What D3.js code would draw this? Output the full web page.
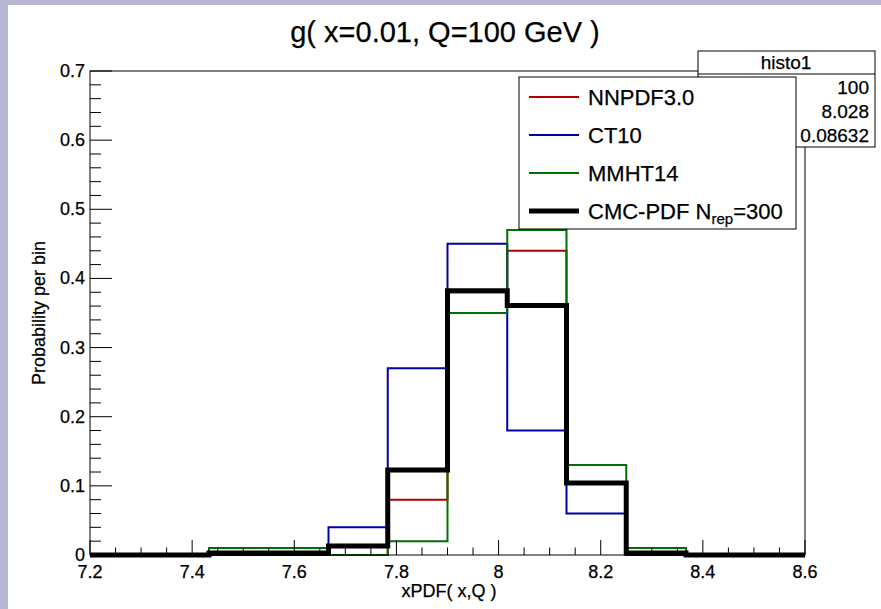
<!DOCTYPE html>
<html>
<head>
  <title>g( x=0.01, Q=100 GeV ) histogram</title>
  <script src="https://d3js.org/d3.v7.min.js"></script>
  <style>
    body { margin: 0; }
    text { font-family: "Liberation Sans", Arial, Helvetica, sans-serif; fill: #000; stroke: #000; stroke-width: 0.25px; }
  </style>
</head>
<body>
  <svg width="881" height="609"></svg>

  <script>
    // Bin edges (12 bins between 7.2 and 8.6)
    const binEdges = [7.200, 7.317, 7.433, 7.550, 7.667, 7.783, 7.900,
                      8.017, 8.133, 8.250, 8.367, 8.483, 8.600];

    // Probability per bin for each PDF set
    const nnpdf = [0, 0, 0, 0, 0, 0.08, 0.38, 0.44, 0.105, 0, 0, 0];
    const ct10  = [0, 0, 0, 0, 0.04, 0.27, 0.45, 0.18, 0.06, 0, 0, 0];
    const mmht  = [0, 0, 0.01, 0.01, 0, 0.02, 0.35, 0.47, 0.13, 0.01, 0, 0];
    const cmc   = [0, 0, 0.003, 0.003, 0.013, 0.123, 0.382, 0.361, 0.104, 0.003, 0, 0];

    const seriesNames = ["NNPDF3.0", "CT10", "MMHT14", "CMC-PDF"];

    // Tick labels
    const xTickLabels = [7.2, 7.4, 7.6, 7.8, 8, 8.2, 8.4, 8.6];
    const yTickLabels = [0, 0.1, 0.2, 0.3, 0.4, 0.5, 0.6, 0.7];

    // Stats box contents
    const statsTitle = "histo1";
    const statsLabels = ["Entries", "Mean", "RMS"];
    const statsValues = ["100", "8.028", "0.08632"];

    const svg = d3.select("svg");

    // Slide background with white canvas
    svg.append("rect").attr("width", 881).attr("height", 609).attr("fill", "#b8b8d6");
    svg.append("rect").attr("x", 8).attr("y", 5).attr("width", 873).attr("height", 604).attr("fill", "#fff");

    // Frame position
    const frame = { left: 90, right: 805, top: 71, bottom: 555 };

    const x = d3.scaleLinear().domain([7.2, 8.6]).range([frame.left, frame.right]);
    const y = d3.scaleLinear().domain([0, 0.7]).range([frame.bottom, frame.top]);

    // Title
    svg.append("text")
      .attr("x", 445).attr("y", 42)
      .attr("text-anchor", "middle")
      .attr("font-size", 29)
      .text("g( x=0.01, Q=100 GeV )");

    // Step outline of a histogram, as ROOT draws it
    function stepPath(values) {
      const pts = [];
      values.forEach((v, i) => {
        pts.push([binEdges[i], v]);
        pts.push([binEdges[i + 1], v]);
      });
      return d3.line().x(d => x(d[0])).y(d => y(d[1]))(pts);
    }

    const series = [
      { name: seriesNames[0], values: nnpdf, color: "#b20000", width: 2 },
      { name: seriesNames[1], values: ct10,  color: "#0000a8", width: 2 },
      { name: seriesNames[2], values: mmht,  color: "#007000", width: 2 },
      { name: seriesNames[3], values: cmc,   color: "#000000", width: 5 }
    ];

    svg.append("g").selectAll("path")
      .data(series)
      .join("path")
      .attr("fill", "none")
      .attr("stroke", d => d.color)
      .attr("stroke-width", d => d.width)
      .attr("stroke-linejoin", "miter")
      .attr("d", d => stepPath(d.values));

    // Frame
    svg.append("rect")
      .attr("x", frame.left).attr("y", frame.top)
      .attr("width", frame.right - frame.left).attr("height", frame.bottom - frame.top)
      .attr("fill", "none").attr("stroke", "#000").attr("stroke-width", 1);

    // X axis: ticks inside the frame
    const xAxis = svg.append("g").attr("stroke", "#000").attr("stroke-width", 1);
    d3.range(0, 29).map(i => 7.2 + i * 0.05).forEach((v, i) => {
      const len = i % 4 === 0 ? 15 : 7.5;
      xAxis.append("line")
        .attr("x1", x(v)).attr("x2", x(v))
        .attr("y1", frame.bottom).attr("y2", frame.bottom - len);
    });
    svg.append("g").selectAll("text")
      .data(xTickLabels)
      .join("text")
      .attr("x", d => x(d))
      .attr("y", 578)
      .attr("text-anchor", "middle")
      .attr("font-size", 18)
      .text(d => d);

    // Y axis
    const yAxis = svg.append("g").attr("stroke", "#000").attr("stroke-width", 1);
    d3.range(0, 36).map(i => i * 0.02).forEach((v, i) => {
      const len = i % 5 === 0 ? 22 : 11;
      yAxis.append("line")
        .attr("x1", frame.left).attr("x2", frame.left + len)
        .attr("y1", y(v)).attr("y2", y(v));
    });
    svg.append("g").selectAll("text")
      .data(yTickLabels)
      .join("text")
      .attr("x", 85)
      .attr("y", d => y(d) + 6)
      .attr("text-anchor", "end")
      .attr("font-size", 18)
      .text(d => d);

    // Axis titles
    svg.append("text")
      .attr("x", 449).attr("y", 597)
      .attr("text-anchor", "middle")
      .attr("font-size", 18)
      .text("xPDF( x,Q )");

    svg.append("text")
      .attr("transform", `translate(45,${(frame.top + frame.bottom) / 2}) rotate(-90)`)
      .attr("text-anchor", "middle")
      .attr("font-size", 18)
      .text("Probability per bin");

    // Stats box
    const stats = svg.append("g");
    stats.append("rect")
      .attr("x", 698).attr("y", 51).attr("width", 177).attr("height", 96)
      .attr("fill", "#fff").attr("stroke", "#000");
    stats.append("line")
      .attr("x1", 698).attr("x2", 875).attr("y1", 74).attr("y2", 74)
      .attr("stroke", "#000");
    stats.append("text")
      .attr("x", 786).attr("y", 69)
      .attr("text-anchor", "middle").attr("font-size", 19)
      .text(statsTitle);
    statsLabels.forEach((label, i) => {
      stats.append("text")
        .attr("x", 704).attr("y", 94 + i * 24)
        .attr("font-size", 19)
        .text(label);
      stats.append("text")
        .attr("x", 869).attr("y", 94 + i * 24)
        .attr("text-anchor", "end").attr("font-size", 19)
        .text(statsValues[i]);
    });

    // Legend
    const legend = svg.append("g");
    legend.append("rect")
      .attr("x", 519).attr("y", 77).attr("width", 277).attr("height", 152)
      .attr("fill", "#fff").attr("stroke", "#000");
    series.forEach((s, i) => {
      const cy = 97 + i * 38;
      legend.append("line")
        .attr("x1", 529).attr("x2", 579)
        .attr("y1", cy).attr("y2", cy)
        .attr("stroke", s.color).attr("stroke-width", s.width);
      const t = legend.append("text")
        .attr("x", 588).attr("y", cy + 8)
        .attr("font-size", 22);
      if (i < 3) {
        t.text(s.name);
      } else {
        t.append("tspan").text(s.name + " N");
        t.append("tspan").attr("font-size", 15).attr("dy", 5).text("rep");
        t.append("tspan").attr("dy", -5).text("=300");
      }
    });
  </script>
</body>
</html>
